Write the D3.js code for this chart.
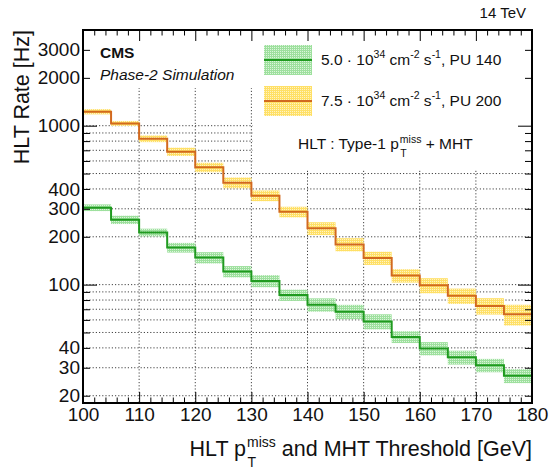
<!DOCTYPE html>
<html><head><meta charset="utf-8">
<script src="https://cdn.jsdelivr.net/npm/d3@7"></script>
<style>
body{margin:0;background:#fff;}
svg{display:block;font-family:"Liberation Sans",Arial,Helvetica,sans-serif;}
</style></head>
<body><svg id="c" width="553" height="469"></svg>
<script>
// bin low edges (GeV), 5 GeV wide
const binEdges = [100,105,110,115,120,125,130,135,140,145,150,155,160,165,170,175];
const binWidth = 5;
// PU 140 (green)
const ratePU140 = [305,256,213,171,148,121,105.5,86,74.8,67.6,58.7,46.9,39.7,34.9,31.1,26.7];
const errPU140  = [14.8,15.4,11.9,12,12.1,9.9,9.2,7,7.2,7.0,6.4,4.0,3.8,3.5,3.0,2.7];
const underPU140 = 380, overPU140 = 24.2;
// PU 200 (orange)
const ratePU200 = [1225,1034,828,686,547,438,363,287,226,179,147,114,99,85,73.5,65];
const errPU200  = [47,37,40,41,37,34,28,22,21,17,14,11,10.8,9.4,8.7,9.7];
const underPU200 = 1550, overPU200 = 54.7;

const xTicksMajor = [100,110,120,130,140,150,160,170,180];
const yTickLabels = [20,30,40,100,200,300,400,1000,2000,3000];
const yMajor = [100,1000];
const yMinor = [20,30,40,50,60,70,80,90,200,300,400,500,600,700,800,900,2000,3000];

const W=553,H=469, L=83, R=532, T=30, B=403;
const svg = d3.select("#c");
const x = d3.scaleLinear().domain([100,180]).range([L,R]);
const y = d3.scaleLog().domain([18,4000]).range([B,T]);

const defs = svg.append("defs");
defs.append("clipPath").attr("id","plot").append("rect").attr("x",L).attr("y",T).attr("width",R-L).attr("height",B-T);
function pat(id,col,bg){
  const p=defs.append("pattern").attr("id",id).attr("width",2).attr("height",2).attr("patternUnits","userSpaceOnUse");
  p.append("rect").attr("width",2).attr("height",2).attr("fill",bg);
  p.append("rect").attr("width",2).attr("height",1).attr("fill",col);
  p.append("rect").attr("x",1).attr("y",1).attr("width",1).attr("height",1).attr("fill",col);
}
pat("pg","#9ee09e","#dcf5dc");
pat("py","#ffe066","#fff3c4");

const colG="#1f9a1f", colO="#d2691e";

// grid
const grid = svg.append("g").attr("stroke","#444").attr("stroke-width",1).attr("stroke-dasharray","1.2,2");
xTicksMajor.slice(1,-1).forEach(v=>grid.append("line").attr("x1",x(v)).attr("x2",x(v)).attr("y1",T).attr("y2",B));
yMajor.concat(yMinor).forEach(v=>grid.append("line").attr("x1",L).attr("x2",R).attr("y1",y(v)).attr("y2",y(v)));

// legend/text boxes (white, cover grid)
svg.append("rect").attr("x",L).attr("y",T).attr("width",253-L).attr("height",88-T).attr("fill","#fff");
svg.append("rect").attr("x",253).attr("y",T).attr("width",R-253).attr("height",170-T).attr("fill","#fff");

const plot = svg.append("g").attr("clip-path","url(#plot)");
function drawSeries(vals,errs,under,over,fill,col){
  plot.append("g").selectAll("rect").data(binEdges).join("rect")
    .attr("x",d=>x(d)).attr("width",d=>x(d+binWidth)-x(d))
    .attr("y",(d,i)=>y(vals[i]+errs[i]))
    .attr("height",(d,i)=>y(vals[i]-errs[i])-y(vals[i]+errs[i]))
    .attr("fill",fill);
  const pts=[[95,under]].concat(binEdges.map((d,i)=>[d,vals[i]]),[[180,over],[185,over]]);
  plot.append("path").attr("d",d3.line().x(d=>x(d[0])).y(d=>y(d[1])).curve(d3.curveStepAfter)(pts))
    .attr("fill","none").attr("stroke",col).attr("stroke-width",2);
}
drawSeries(ratePU200,errPU200,underPU200,overPU200,"url(#py)",colO);
drawSeries(ratePU140,errPU140,underPU140,overPU140,"url(#pg)",colG);

// axes
const fs = "19px";
const ax = svg.append("g");
const xMinor = d3.range(100,181,2).filter(v=>v%10!==0);
ax.append("g").attr("transform",`translate(0,${B})`).call(d3.axisBottom(x).tickValues(xTicksMajor).tickSize(-11).tickPadding(5).tickFormat(d3.format("d")));
ax.append("g").attr("transform",`translate(0,${B})`).call(d3.axisBottom(x).tickValues(xMinor).tickSize(-5.5).tickFormat(""));
ax.append("g").attr("transform",`translate(0,${T})`).call(d3.axisTop(x).tickValues(xTicksMajor).tickSize(-11).tickFormat(""));
ax.append("g").attr("transform",`translate(0,${T})`).call(d3.axisTop(x).tickValues(xMinor).tickSize(-5.5).tickFormat(""));
ax.append("g").attr("transform",`translate(${L},0)`).call(d3.axisLeft(y).tickValues(yMajor).tickSize(-14).tickFormat(""));
ax.append("g").attr("transform",`translate(${L},0)`).call(d3.axisLeft(y).tickValues(yMinor).tickSize(-7).tickFormat(""));
ax.append("g").attr("transform",`translate(${L},0)`).call(d3.axisLeft(y).tickValues(yTickLabels).tickSize(0).tickPadding(3).tickFormat(d3.format("d")));
ax.append("g").attr("transform",`translate(${R},0)`).call(d3.axisRight(y).tickValues(yMajor).tickSize(-14).tickFormat(""));
ax.append("g").attr("transform",`translate(${R},0)`).call(d3.axisRight(y).tickValues(yMinor).tickSize(-7).tickFormat(""));
ax.selectAll(".domain").remove();
ax.selectAll("line").attr("stroke","#000").attr("stroke-width",1);
ax.selectAll("text").attr("font-size",fs).attr("font-family","Liberation Sans, Arial, sans-serif").attr("fill","#111");
svg.append("rect").attr("x",L).attr("y",T).attr("width",R-L).attr("height",B-T).attr("fill","none").attr("stroke","#000").attr("stroke-width",2);

// sub/superscript helper: base text, then sup and sub stacked, then rest
function ptLabel(parent, x0, y0, size, subSize, before, sup, sub, after, anchorEnd){
  const g = parent.append("g");
  const t1 = g.append("text").attr("x",0).attr("y",0).attr("font-size",size+"px").attr("fill","#111").text(before);
  const w1 = t1.node().getComputedTextLength();
  const ts = g.append("text").attr("x",w1+1).attr("y",-size*0.42).attr("font-size",subSize+"px").attr("fill","#111").text(sup);
  const tb = g.append("text").attr("x",w1+1.5).attr("y",size*0.5).attr("font-size",subSize+"px").attr("fill","#111").text(sub);
  const w2 = Math.max(ts.node().getComputedTextLength(), tb.node().getComputedTextLength());
  const t3 = g.append("text").attr("x",w1+1+w2).attr("y",0).attr("font-size",size+"px").attr("fill","#111").attr("xml:space","preserve").text(after);
  const total = w1+1+w2+t3.node().getComputedTextLength();
  g.attr("transform",`translate(${anchorEnd? x0-total : x0},${y0})`);
}
ptLabel(svg, R, 456, 21.5, 14, "HLT p", "miss", "T", " and MHT Threshold [GeV]", true);

svg.append("text").attr("transform",`translate(29,${T}) rotate(-90)`).attr("text-anchor","end")
  .attr("font-size","21.5px").attr("fill","#111").text("HLT Rate [Hz]");

svg.append("text").attr("x",526).attr("y",18).attr("text-anchor","end").attr("font-size","15px").attr("fill","#111").text("14 TeV");
svg.append("text").attr("x",100).attr("y",58).attr("font-size","15.5px").attr("font-weight","bold").attr("fill","#111").text("CMS");
svg.append("text").attr("x",100).attr("y",80).attr("font-size","15.5px").attr("font-style","italic").attr("fill","#111").text("Phase-2 Simulation");

// legend
function legEntry(yc,fill,col,lumi,pu){
  svg.append("rect").attr("x",264).attr("y",yc-15).attr("width",48).attr("height",30).attr("fill",fill);
  svg.append("line").attr("x1",264).attr("x2",312).attr("y1",yc).attr("y2",yc).attr("stroke",col).attr("stroke-width",2);
  const t=svg.append("text").attr("x",321).attr("y",yc+5).attr("font-size","15.5px").attr("fill","#111");
  t.append("tspan").text(lumi+" \u00b7 10");
  t.append("tspan").attr("font-size","10.5px").attr("dy",-7).text("34");
  t.append("tspan").attr("dy",7).text(" cm");
  t.append("tspan").attr("font-size","10.5px").attr("dy",-7).text("-2");
  t.append("tspan").attr("dy",7).text(" s");
  t.append("tspan").attr("font-size","10.5px").attr("dy",-7).text("-1");
  t.append("tspan").attr("dy",7).text(", PU "+pu);
}
legEntry(60,"url(#pg)",colG,"5.0","140");
legEntry(101,"url(#py)",colO,"7.5","200");
ptLabel(svg, 298, 149, 15.5, 10.5, "HLT : Type-1 p", "miss", "T", " + MHT", false);
</script></body></html>
